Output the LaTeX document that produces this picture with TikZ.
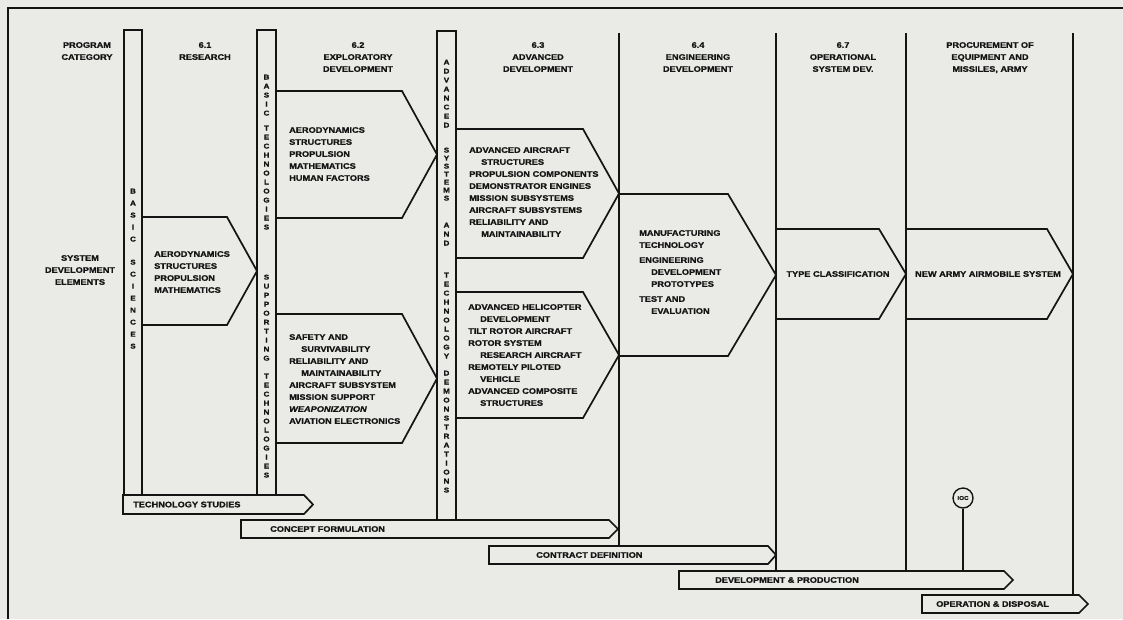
\documentclass[tikz,border=0pt]{standalone}
\usepackage{fontspec}
\newfontfamily\chartfont[FakeStretch=1.15,BoldFeatures={FakeBold=1.2},BoldItalicFeatures={FakeBold=1.2}]{Liberation Sans}
\definecolor{paper}{RGB}{234,234,231}
\definecolor{ink}{RGB}{20,20,20}

\tikzset{
  chart/.style={draw=ink, line width=1.7pt, line join=miter},
  txt/.style={inner sep=0pt, text=ink, font=\chartfont\bfseries\fontsize{8}{12}\selectfont, align=left, anchor=north west},
  hdr/.style={txt, align=center, anchor=north},
  letters/.style={inner sep=0pt, text=ink, font=\chartfont\bfseries\fontsize{7}{9}\selectfont, align=center, anchor=north},
  barlabel/.style={txt, anchor=west},
}

% pointed box: left, top, shoulder, tip, bottom
\newcommand{\stepshape}[5]{\draw[chart] (#1,#2) -- (#3,#2) -- (#4,{(#2+#5)/2}) -- (#3,#5) -- (#1,#5);}
\newcommand{\phasebar}[5]{\draw[chart] (#1,#2) -- (#3,#2) -- (#4,{(#2+#5)/2}) -- (#3,#5) -- (#1,#5) -- cycle;}
\newcommand{\ind}{\hspace*{12pt}}

\begin{document}
\begin{tikzpicture}[x=1pt,y=-1pt]

\fill[paper] (0,0) rectangle (1123,619);
\useasboundingbox (0,0) rectangle (1123,619);

% frame
\draw[ink, line width=2.4pt] (8,619) -- (8,8) -- (1123,8);

% column headers
\node[hdr] (cat) at (87,42) {PROGRAM\\CATEGORY};
\node[hdr] (res) at (205,42) {6.1\\RESEARCH};
\node[hdr] (expl) at (358,42) {6.2\\EXPLORATORY\\DEVELOPMENT};
\node[hdr] (adv) at (538,42) {6.3\\ADVANCED\\DEVELOPMENT};
\node[hdr] (eng) at (698,42) {6.4\\ENGINEERING\\DEVELOPMENT};
\node[hdr] (oper) at (843,42) {6.7\\OPERATIONAL\\SYSTEM DEV.};
\node[hdr] (proc) at (990,42) {PROCUREMENT OF\\EQUIPMENT AND\\MISSILES, ARMY};

\node[hdr] (sde) at (80,255) {SYSTEM\\DEVELOPMENT\\ELEMENTS};

% strips
\draw[chart] (124,495) -- (124,30) -- (142,30) -- (142,495);
\draw[chart] (257,495) -- (257,30) -- (276,30) -- (276,495);
\draw[chart] (437,520) -- (437,31) -- (456,31) -- (456,520);

\node[letters, font=\chartfont\bfseries\fontsize{7}{12}\selectfont] (bs1) at (133,188.5) {B\\A\\S\\I\\C};
\node[letters, font=\chartfont\bfseries\fontsize{7}{12}\selectfont] (bs2) at (133,259.5) {S\\C\\I\\E\\N\\C\\E\\S};

\node[letters] (bt1) at (266.5,74.5) {B\\A\\S\\I\\C};
\node[letters] (bt2) at (266.5,125.5) {T\\E\\C\\H\\N\\O\\L\\O\\G\\I\\E\\S};
\node[letters] (st1) at (266.5,274.5) {S\\U\\P\\P\\O\\R\\T\\I\\N\\G};
\node[letters] (st2) at (266.5,373.5) {T\\E\\C\\H\\N\\O\\L\\O\\G\\I\\E\\S};

\node[letters] (at1) at (446.5,59.5) {A\\D\\V\\A\\N\\C\\E\\D};
\node[letters, font=\chartfont\bfseries\fontsize{7}{8}\selectfont] (at2) at (446.5,147.5) {S\\Y\\S\\T\\E\\M\\S};
\node[letters] (at3) at (446.5,222.5) {A\\N\\D};
\node[letters] (at4) at (446.5,272.5) {T\\E\\C\\H\\N\\O\\L\\O\\G\\Y};
\node[letters] (at5) at (446.5,370.5) {D\\E\\M\\O\\N\\S\\T\\R\\A\\T\\I\\O\\N\\S};

% column lines
\draw[chart] (619,33) -- (619,546);
\draw[chart] (776,33) -- (776,571);
\draw[chart] (906,33) -- (906,571);
\draw[chart] (1073,33) -- (1073,595);

% elements
\stepshape{142}{217}{227}{257}{325}
\node[txt] (sci) at (154,251) {AERODYNAMICS\\STRUCTURES\\PROPULSION\\MATHEMATICS};

\stepshape{276}{91}{402}{437}{218}
\node[txt] (btech) at (289,127) {AERODYNAMICS\\STRUCTURES\\PROPULSION\\MATHEMATICS\\HUMAN FACTORS};

\stepshape{276}{314}{402}{437}{443}
\node[txt] (stech) at (289,334) {SAFETY AND\\\ind SURVIVABILITY\\RELIABILITY AND\\\ind MAINTAINABILITY\\AIRCRAFT SUBSYSTEM\\MISSION SUPPORT\\\textit{WEAPONIZATION}\\AVIATION ELECTRONICS};

\stepshape{456}{129}{583}{619}{258}
\node[txt] (asys) at (469,147) {ADVANCED AIRCRAFT\\\ind STRUCTURES\\PROPULSION COMPONENTS\\DEMONSTRATOR ENGINES\\MISSION SUBSYSTEMS\\AIRCRAFT SUBSYSTEMS\\RELIABILITY AND\\\ind MAINTAINABILITY};

\stepshape{456}{292}{583}{619}{418}
\node[txt] (tdemo) at (468,304) {ADVANCED HELICOPTER\\\ind DEVELOPMENT\\TILT ROTOR AIRCRAFT\\ROTOR SYSTEM\\\ind RESEARCH AIRCRAFT\\REMOTELY PILOTED\\\ind VEHICLE\\ADVANCED COMPOSITE\\\ind STRUCTURES};

\stepshape{619}{194}{728}{776}{356}
\node[txt] (mfg) at (639,230) {MANUFACTURING\\TECHNOLOGY\\[3pt]ENGINEERING\\\ind DEVELOPMENT\\\ind PROTOTYPES\\[3pt]TEST AND\\\ind EVALUATION};

\stepshape{776}{229}{879}{906}{319}
\node[txt, anchor=center] (type) at (838,274) {TYPE CLASSIFICATION};

\stepshape{906}{229}{1047}{1073}{319}
\node[txt, anchor=center] (army) at (988,274) {NEW ARMY AIRMOBILE SYSTEM};

% phases
\phasebar{123}{495}{304}{313}{514}
\node[barlabel] (studies) at (133,504.5) {TECHNOLOGY STUDIES};

\phasebar{241}{520}{609}{618}{538}
\node[barlabel] (concept) at (270,529) {CONCEPT FORMULATION};

\phasebar{489}{546}{768}{776}{564}
\node[barlabel] (contract) at (536,555) {CONTRACT DEFINITION};

\phasebar{679}{571}{1004}{1013}{589}
\node[barlabel] (devprod) at (715,580) {DEVELOPMENT \& PRODUCTION};

\phasebar{922}{595}{1079}{1088}{613}
\node[barlabel] (opdisp) at (936,604) {OPERATION \& DISPOSAL};

% ioc
\node[circle, draw=ink, line width=1.4pt, minimum size=20pt, inner sep=0pt, text=ink, font=\chartfont\bfseries\fontsize{5.5}{6}\selectfont] (ioc) at (963,498) {IOC};
\draw[ink, line width=1.4pt] (ioc.south) -- (963,571);

\end{tikzpicture}
\end{document}
